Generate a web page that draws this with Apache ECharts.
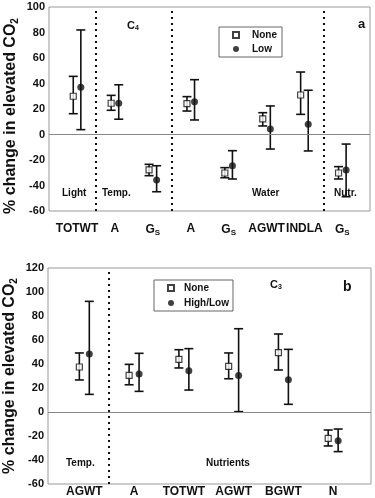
<!DOCTYPE html>
<html>
<head>
<meta charset="utf-8">
<script src="https://cdn.jsdelivr.net/npm/echarts@6/dist/echarts.min.js"></script>
<style>
  html, body { margin: 0; padding: 0; background: #fff; }
  #chart { width: 375px; height: 498px; }
</style>
</head>
<body>
<div id="chart"></div>
<script>
// panel a (C4)
const catsA = ['TOTWT', 'A', 'GS', 'A', 'GS', 'AGWT', 'INDLA', 'GS'];
const noneA = [30, 24.5, -27.8, 24.2, -30.2, 12.2, 31, -30.2];
const noneALo = [16.3, 19, -32.3, 18.4, -33.9, 6.7, 15.8, -34.9];
const noneAHi = [45.6, 30.7, -23.4, 29.7, -26, 17.1, 49, -25.2];
const lowA = [37, 24.5, -35.7, 25.7, -24.5, 4.3, 8, -27.8];
const lowALo = [3.8, 12, -44.9, 11.4, -34.9, -11.4, -12.9, -48.8];
const lowAHi = [82, 39, -24.5, 43, -12.7, 22.4, 34.7, -7.5];
const sepA = [0.5, 2.5, 6.5];
const groupsA = ['Light', 'Temp.', 'Water', 'Nutr.'];

// panel b (C3)
const catsB = ['AGWT', 'A', 'TOTWT', 'AGWT', 'BGWT', 'N'];
const noneB = [37.5, 30.5, 43.9, 38, 49.4, -22];
const noneBLo = [26.7, 22.7, 36.7, 27.7, 35, -28.3];
const noneBHi = [49.2, 39.7, 51.9, 49.2, 65, -15];
const hlB = [48.3, 31.7, 34.3, 30.5, 26.9, -23.9];
const hlBLo = [14.7, 17.2, 18.3, 0.3, 6.4, -33];
const hlBHi = [92.2, 48.9, 52.8, 69.4, 52.2, -14.2];
const sepB = [0.5];
const groupsB = ['Temp.', 'Nutrients'];

const ticksA = [-60, -40, -20, 0, 20, 40, 60, 80, 100];
const ticksB = [-60, -40, -20, 0, 20, 40, 60, 80, 100, 120];

const font = 'Liberation Sans, Arial, sans-serif';
const ink = '#111';

const chart = echarts.init(document.getElementById('chart'));

const catLabel = (cats) => (v) => {
  const c = cats[Math.round(v)];
  return c === 'GS' ? '{b|G}{s|S}' : '{b|' + c + '}';
};
const catRich = {
  b: { fontFamily: font, fontWeight: 'bold', fontSize: 12, color: ink },
  s: { fontFamily: font, fontWeight: 'bold', fontSize: 8, color: ink, padding: [6, 0, 0, 0] }
};

function xAxisFor(idx, cats, min, max, margin) {
  return {
    gridIndex: idx, type: 'value', min: min, max: max,
    axisLine: { show: false }, axisTick: { show: false }, splitLine: { show: false },
    axisLabel: {
      customValues: cats.map((c, i) => i),
      formatter: catLabel(cats), rich: catRich, margin: margin
    }
  };
}

function yAxisFor(idx, ticks, shift) {
  return {
    gridIndex: idx, type: 'value',
    min: ticks[0], max: ticks[ticks.length - 1], interval: 20,
    axisLine: { show: false }, axisTick: { show: false }, splitLine: { show: false },
    axisLabel: { margin: 4, fontFamily: font, fontWeight: 'bold', fontSize: 11, color: ink },
    name: '{t|% change in elevated CO}{s|2}',
    nameLocation: 'middle', nameGap: 29, nameMoveOverlap: false,
    nameTextStyle: {
      padding: [0, shift, 0, 0],
      rich: {
        t: { fontFamily: font, fontWeight: 'bold', fontSize: 16, color: ink },
        s: { fontFamily: font, fontWeight: 'bold', fontSize: 10, color: ink, padding: [8, 0, 0, 0] }
      }
    }
  };
}

function errorBars(idx, lo, hi, shift) {
  return {
    type: 'custom', xAxisIndex: idx, yAxisIndex: idx, silent: true, z: 2,
    data: lo.map((v, i) => [i + shift, v, hi[i]]),
    renderItem: (params, api) => {
      const top = api.coord([api.value(0), api.value(2)]);
      const bot = api.coord([api.value(0), api.value(1)]);
      const hw = 4.5;
      const st = { stroke: ink, lineWidth: 1.6 };
      return {
        type: 'group', children: [
          { type: 'line', shape: { x1: top[0], y1: top[1], x2: bot[0], y2: bot[1] }, style: st },
          { type: 'line', shape: { x1: top[0] - hw, y1: top[1], x2: top[0] + hw, y2: top[1] }, style: st },
          { type: 'line', shape: { x1: bot[0] - hw, y1: bot[1], x2: bot[0] + hw, y2: bot[1] }, style: st }
        ]
      };
    }
  };
}

function points(idx, name, vals, shift, filled) {
  return {
    type: 'scatter', name: name, xAxisIndex: idx, yAxisIndex: idx, z: 5,
    symbol: filled ? 'circle' : 'rect',
    symbolSize: filled ? 7 : 6,
    itemStyle: filled
      ? { color: ink }
      : { color: '#fff', borderColor: ink, borderWidth: 1.2 },
    data: vals.map((v, i) => [i + shift, v])
  };
}

function guides(idx, seps) {
  return {
    type: 'custom', xAxisIndex: idx, yAxisIndex: idx, data: [], renderItem: () => null,
    markLine: {
      silent: true, symbol: 'none', label: { show: false }, animation: false,
      data: [{ yAxis: 0, lineStyle: { color: '#888', width: 1, type: 'solid' } }]
        .concat(seps.map(s => ({ xAxis: s, lineStyle: { color: ink, width: 2, type: [2, 4] } })))
    }
  };
}

const txt = (left, top, text, size, rich) => ({
  type: 'text', left: left, top: top,
  style: {
    text: text, fontFamily: font, fontWeight: 'bold', fontSize: size, fill: ink,
    rich: rich
  }
});
const subRich = {
  m: { fontFamily: font, fontWeight: 'bold', fontSize: 11, color: ink },
  s: { fontFamily: font, fontWeight: 'bold', fontSize: 7, color: ink, padding: [5, 0, 0, 0] }
};

chart.setOption({
  animation: false,
  textStyle: { fontFamily: font },
  grid: [
    { left: 49, top: 7, right: 5, height: 204, show: true, borderColor: '#999', borderWidth: 1, outerBoundsMode: 'none' },
    { left: 48, top: 268, right: 4, height: 216, show: true, borderColor: '#999', borderWidth: 1, outerBoundsMode: 'none' }
  ],
  xAxis: [
    xAxisFor(0, catsA, -0.74, 7.73, 12),
    xAxisFor(1, catsB, -0.73, 5.76, 2)
  ],
  yAxis: [yAxisFor(0, ticksA, 14), yAxisFor(1, ticksB, 0)],
  legend: [
    {
      orient: 'vertical', left: 219, top: 27,
      data: ['None', 'Low'],
      borderColor: '#666', borderWidth: 1, padding: [3, 5, 3, 13],
      itemWidth: 6, itemHeight: 6, itemGap: 4, selectedMode: false,
      textStyle: { fontFamily: font, fontWeight: 'bold', fontSize: 10, color: ink, padding: [0, 0, 0, 8] }
    },
    {
      orient: 'vertical', left: 154, top: 280,
      data: ['None', 'High/Low'],
      borderColor: '#666', borderWidth: 1, padding: [3, 4, 3, 13],
      itemWidth: 6, itemHeight: 6, itemGap: 5, selectedMode: false,
      textStyle: { fontFamily: font, fontWeight: 'bold', fontSize: 10, color: ink, padding: [0, 0, 0, 5] }
    }
  ],
  series: [
    guides(0, sepA),
    errorBars(0, noneALo, noneAHi, -0.1),
    errorBars(0, lowALo, lowAHi, 0.1),
    points(0, 'None', noneA, -0.1, false),
    points(0, 'Low', lowA, 0.1, true),
    guides(1, sepB),
    errorBars(1, noneBLo, noneBHi, -0.1),
    errorBars(1, hlBLo, hlBHi, 0.1),
    points(1, 'None', noneB, -0.1, false),
    points(1, 'High/Low', hlB, 0.1, true)
  ],
  graphic: [
    txt(62, 188, groupsA[0], 10),
    txt(102, 188, groupsA[1], 10),
    txt(252, 188, groupsA[2], 10),
    txt(334, 188, groupsA[3], 10),
    txt(127, 20, '{m|C}{s|4}', 11, subRich),
    txt(358, 18, 'a', 13),
    txt(66, 458, groupsB[0], 10),
    txt(206, 458, groupsB[1], 10),
    txt(270, 279, '{m|C}{s|3}', 11, subRich),
    txt(343, 280, 'b', 14)
  ]
});
</script>
</body>
</html>
